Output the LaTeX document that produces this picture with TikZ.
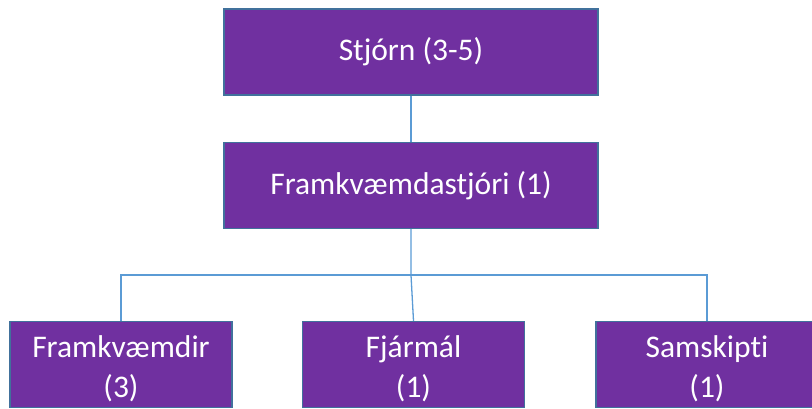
\documentclass[tikz,border=0pt]{standalone}
\usepackage{fontspec}
\setmainfont{Carlito}[Ligatures=NoCommon]
\definecolor{boxfill}{HTML}{7030A0}
\definecolor{boxline}{HTML}{41719C}
\definecolor{conn}{HTML}{5B9BD5}
\newcommand{\lowstrut}{\rule{0pt}{31pt}}
\begin{document}
\begin{tikzpicture}[x=1pt,y=-1pt,
  box/.style={draw=boxline, line width=1.3pt, fill=boxfill, text=white,
    font=\fontsize{31.5}{40}\selectfont, inner sep=0pt, align=center},
  bigbox/.style={box, minimum width=374pt, minimum height=86pt},
  smallbox/.style={box, minimum width=222pt, minimum height=86pt},
  link/.style={draw=conn, line width=1.3pt}]
\useasboundingbox (0,0) rectangle (812,408);
\clip (0,0) rectangle (812,408);
\node[bigbox] (top) at (411,52) {Stjórn (3-5)};
\node[bigbox] (mid) at (411,185.5) {Framkvæmdastjóri (1)};
\node[smallbox] (fram) at (121,364.5) {\lowstrut Framkvæmdir\\(3)};
\node[smallbox] (fja) at (413.5,364.5) {\lowstrut Fjármál\\(1)};
\node[smallbox] (sam) at (707,364.5) {\lowstrut Samskipti\\(1)};
\coordinate (bar) at (411,275);
\draw[link] (top.south) -- (mid.north);
\draw[link] (mid.south) -- (bar) -- (fja.north);
\draw[link] (fram.north) |- (bar);
\draw[link] (sam.north) |- (bar);
\end{tikzpicture}
\end{document}
